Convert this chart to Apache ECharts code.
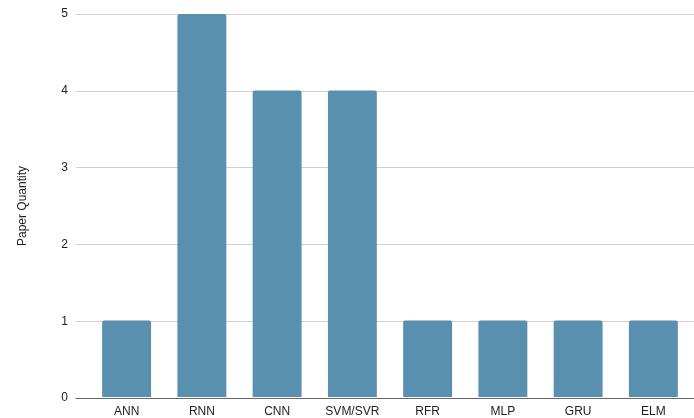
<!DOCTYPE html>
<html>
<head>
<meta charset="utf-8">
<script src="https://cdn.jsdelivr.net/npm/echarts@6/dist/echarts.min.js"></script>
<style>html,body{margin:0;padding:0;background:#fff}#c{width:694px;height:418px}</style>
</head>
<body>
<div id="c"></div>
<script>
const categories = ['ANN', 'RNN', 'CNN', 'SVM/SVR', 'RFR', 'MLP', 'GRU', 'ELM'];
const paperQuantity = [1, 5, 4, 4, 1, 1, 1, 1];
const yTicks = [0, 1, 2, 3, 4, 5];

const chart = echarts.init(document.getElementById('c'), null, {renderer: 'canvas'});
const font = 'Liberation Sans, Arial, sans-serif';
chart.setOption({
  animation: false,
  backgroundColor: '#fff',
  grid: [
    {left: 76, right: 0, top: 14, bottom: 20},
    {left: 89, right: 3, top: 14, bottom: 20}
  ],
  xAxis: [
    {gridIndex: 0, type: 'value', min: 0, max: 1, show: true,
     axisLine: {show: true, onZero: false, lineStyle: {color: '#666', width: 1}},
     axisTick: {show: false}, axisLabel: {show: false}, splitLine: {show: false}},
    {gridIndex: 1, type: 'category', data: categories,
     axisLine: {show: false}, axisTick: {show: false},
     axisLabel: {color: '#222', fontSize: 12, fontFamily: font, margin: 9}}
  ],
  yAxis: [
    {gridIndex: 0, type: 'value', min: yTicks[0], max: yTicks[yTicks.length - 1], interval: 1,
     name: 'Paper Quantity', nameLocation: 'middle', nameGap: 47,
     nameTextStyle: {color: '#222', fontSize: 12, fontFamily: font},
     axisLine: {show: false}, axisTick: {show: false},
     axisLabel: {color: '#222', fontSize: 12, fontFamily: font, margin: 8},
     splitLine: {lineStyle: {color: '#d0d0d0', width: 1}}},
    {gridIndex: 1, type: 'value', min: yTicks[0], max: yTicks[yTicks.length - 1], interval: 1, show: false}
  ],
  series: [{
    type: 'bar', xAxisIndex: 1, yAxisIndex: 1,
    data: paperQuantity,
    barCategoryGap: '35%',
    itemStyle: {color: '#5990af', borderRadius: [2, 2, 0, 0]},
    z: 1
  }]
});
</script>
</body>
</html>
